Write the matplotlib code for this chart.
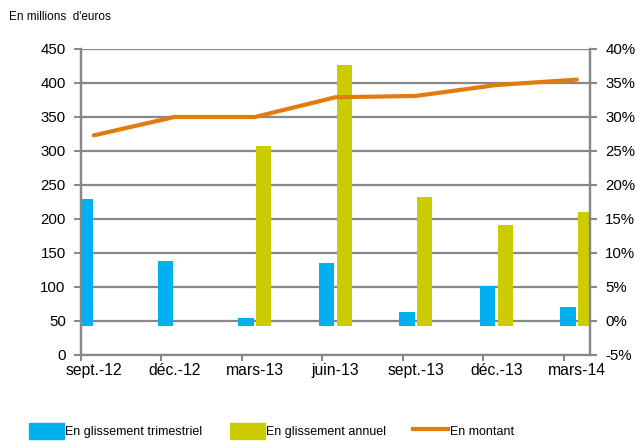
import numpy as np
import matplotlib.pyplot as plt
from matplotlib.patches import Patch
from matplotlib.lines import Line2D

plt.rcParams['font.family'] = ['Liberation Sans', 'DejaVu Sans']

# Data
trimestres = ['sept.-12', 'déc.-12', 'mars-13', 'juin-13', 'sept.-13', 'déc.-13', 'mars-14']
glissement_trim = [17.9, 8.8, 0.5, 8.6, 1.3, 5.2, 2.0]            # %
glissement_annuel = [np.nan, np.nan, 25.7, 37.6, 18.2, 14.1, 16.1]  # %
montant = [323, 350, 350, 379, 381, 397, 405]                        # millions d'euros

BLUE = '#00b0f0'
YELLOW = '#cccc00'
ORANGE = '#e07b0c'
GRID = '#888888'

fig = plt.figure(figsize=(6.35, 4.41), dpi=100)
ax = fig.add_axes([81 / 635, 1 - 355 / 441, (590 - 81) / 635, (355 - 49) / 441])
ax2 = ax.twinx()

x = np.arange(len(trimestres))
w = 0.19
base = -0.7
ax.bar(x - 0.11, np.array(glissement_trim) - base, w, bottom=base, color=BLUE, zorder=2)
ax.bar(x + 0.11, np.array(glissement_annuel) - base, w, bottom=base, color=YELLOW, zorder=2)
ax2.plot(x, montant, color=ORANGE, lw=3, solid_capstyle='round', zorder=3)

# axes / ticks
ax.set_xlim(-0.16, 6.163)
ax.set_ylim(-5, 40)
ax2.set_ylim(0, 450)
ax.yaxis.tick_right()
ax2.yaxis.tick_left()
ax.set_yticks(np.arange(-5, 41, 5))
ax.set_yticklabels([f'{v}%' for v in range(-5, 41, 5)])
ax2.set_yticks(np.arange(0, 451, 50))

ax.set_xticks(x)
ax.set_xticklabels(trimestres)
ax.set_xticks(x - 0.16, minor=True)
ax.tick_params(axis='x', which='major', length=0, pad=6, labelsize=11.3)
ax.tick_params(axis='x', which='minor', length=4, width=1.5, color=GRID, direction='out')
ax.tick_params(axis='y', length=5, width=1.5, color=GRID, pad=6, labelsize=10.8)
ax2.tick_params(axis='y', length=5, width=1.5, color=GRID, pad=6, labelsize=10.8)

ax.grid(axis='y', color=GRID, lw=1.6, zorder=0)
ax.set_axisbelow(True)

for a in (ax, ax2):
    a.spines['top'].set_visible(False)
    for s in ('left', 'right', 'bottom'):
        a.spines[s].set_color(GRID)
        a.spines[s].set_linewidth(1.6)
ax2.spines['bottom'].set_visible(False)

fig.text(9 / 635, 1 - 17 / 441, "En millions  d'euros", fontsize=8.5, va='center', ha='left')

handles = [Patch(color=BLUE), Patch(color=YELLOW), Line2D([], [], color=ORANGE, lw=3)]
labels = ['En glissement trimestriel', 'En glissement annuel', 'En montant']
fig.legend(handles, labels, loc='center', bbox_to_anchor=(0.427, 0.022), ncol=3,
           frameon=False, fontsize=9, handlelength=2.8, handleheight=1.6,
           handletextpad=0.1, columnspacing=2.2, borderpad=0)

fig.savefig('out.png', dpi=100)
